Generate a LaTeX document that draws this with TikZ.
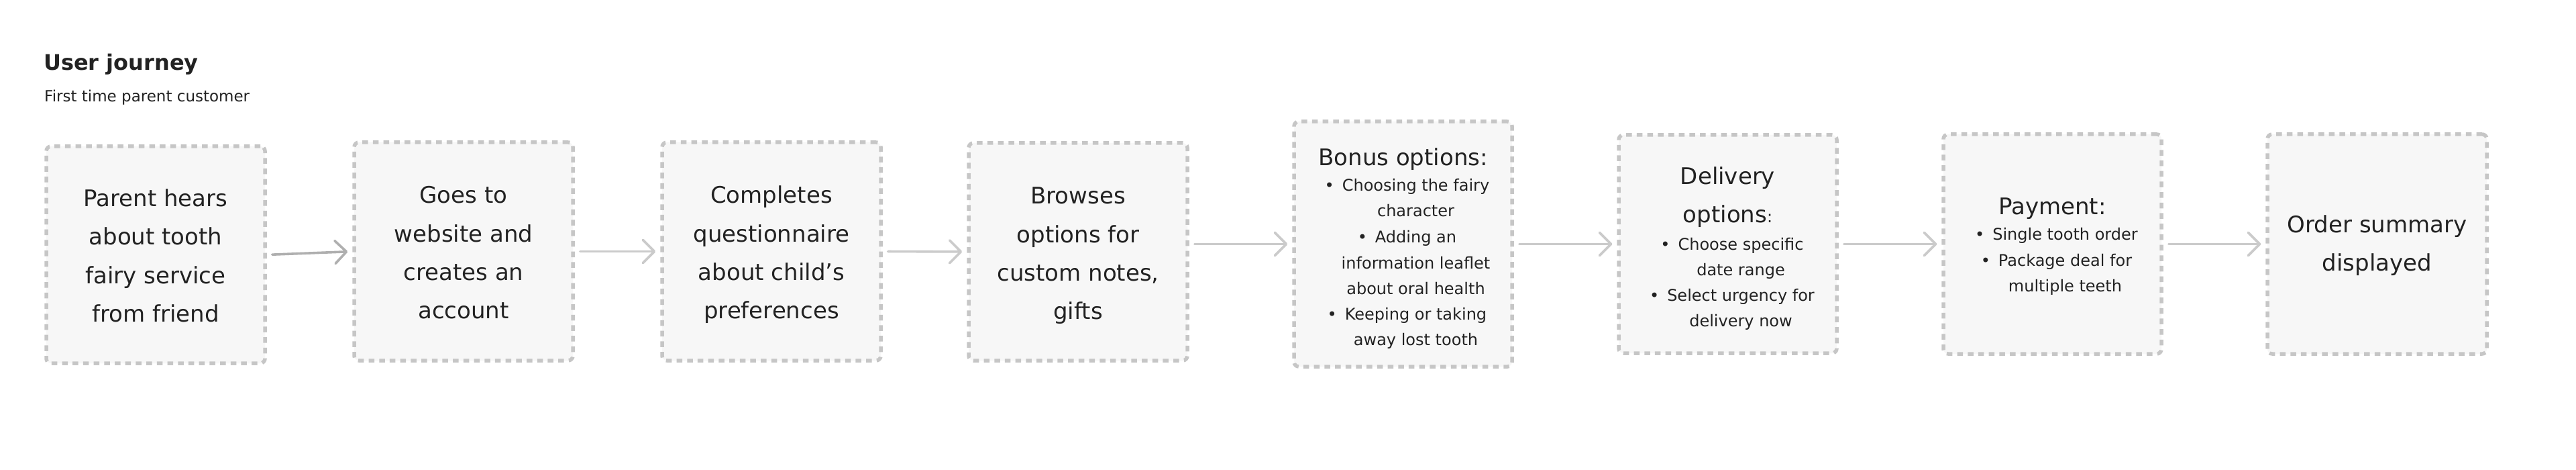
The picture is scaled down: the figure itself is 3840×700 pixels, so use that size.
\documentclass[tikz,border=0pt]{standalone}
\usepackage{fontspec}
\setmainfont{DejaVu Sans}
\usetikzlibrary{arrows.meta}
\definecolor{bordc}{HTML}{C6C6C6}
\definecolor{fillc}{HTML}{F7F7F7}
\definecolor{txtc}{HTML}{222222}
\definecolor{arrc}{HTML}{CBCBCB}
\definecolor{arrd}{HTML}{AFAFAF}
\newcommand\blt{\llap{\textbullet\hspace{12pt}}}
\begin{document}
\begin{tikzpicture}[x=1pt,y=-1pt,
  jbox/.style={draw=bordc, fill=fillc, line width=5.5pt, dash pattern=on 8.5pt off 7.2pt, rounded corners=7pt, inner sep=0pt},
  big/.style={anchor=base, inner sep=0pt, text=txtc, font=\fontsize{34}{40}\selectfont},
  small/.style={anchor=base, inner sep=0pt, text=txtc, font=\fontsize{24}{30}\selectfont},
  flow/.style={draw=arrc, line width=3.6pt, line cap=round, -{Straight Barb[length=17pt,width=34pt,round]}, shorten <=8pt, shorten >=7pt},
]
\useasboundingbox (0,0) rectangle (3840,700);
\fill[white] (0,0) rectangle (3840,700);

% titles
\node[anchor=base west, inner sep=0pt, text=txtc, font=\fontsize{32}{38}\selectfont\bfseries] (title) at (65,105) {User journey};
\node[anchor=base west, inner sep=0pt, text=txtc, font=\fontsize{23}{28}\selectfont] (subtitle) at (66,152) {First time parent customer};

% boxes
\node[jbox, minimum width=326pt, minimum height=323pt] (b1) at (232,379.5) {};
\node[jbox, minimum width=326pt, minimum height=325pt] (b2) at (691,374.5) {};
\node[jbox, minimum width=326pt, minimum height=325pt] (b3) at (1150,374.5) {};
\node[jbox, minimum width=326pt, minimum height=324pt] (b4) at (1607,375) {};
\node[jbox, minimum width=325pt, minimum height=365pt] (b5) at (2091.5,363.5) {};
\node[jbox, minimum width=325pt, minimum height=325pt] (b6) at (2575.5,363.5) {};
\node[jbox, minimum width=325pt, minimum height=327pt] (b7) at (3059.5,363.5) {};
\node[jbox, minimum width=327pt, minimum height=327pt] (b8) at (3543.5,363.5) {};

% box 1
\node[big] (t1a) at (232,308) {Parent hears};
\node[big] (t1b) at (232,365) {about tooth};
\node[big] (t1c) at (232,422) {fairy service};
\node[big] (t1d) at (232,479) {from friend};
% box 2
\node[big] (t2a) at (691,303) {Goes to};
\node[big] (t2b) at (691,360) {website and};
\node[big] (t2c) at (691,417) {creates an};
\node[big] (t2d) at (691,474) {account};
% box 3
\node[big] (t3a) at (1150,303) {Completes};
\node[big] (t3b) at (1150,360) {questionnaire};
\node[big] (t3c) at (1150,417) {about child's};
\node[big] (t3d) at (1150,474) {preferences};
% box 4
\node[big] (t4a) at (1607,304) {Browses};
\node[big] (t4b) at (1607,361) {options for};
\node[big] (t4c) at (1607,418) {custom notes,};
\node[big] (t4d) at (1607,475) {gifts};
% box 5
\node[big] (t5h) at (2091.5,247) {Bonus options:};
\node[small] (t5a) at (2110.5,285) {\blt Choosing the fairy};
\node[small] (t5b) at (2110.5,323) {character};
\node[small] (t5c) at (2110.5,361) {\blt Adding an};
\node[small] (t5d) at (2110.5,400) {information leaflet};
\node[small] (t5e) at (2110.5,438) {about oral health};
\node[small] (t5f) at (2110.5,476) {\blt Keeping or taking};
\node[small] (t5g) at (2110.5,514) {away lost tooth};
% box 6
\node[big] (t6h) at (2575.5,275) {Delivery};
\node[big] (t6i) at (2575.5,332) {options{\fontsize{24}{30}\selectfont:}};
\node[small] (t6a) at (2595,372) {\blt Choose specific};
\node[small] (t6b) at (2595,410) {date range};
\node[small] (t6c) at (2595,448) {\blt Select urgency for};
\node[small] (t6d) at (2595,486) {delivery now};
% box 7
\node[big] (t7h) at (3059.5,320) {Payment:};
\node[small] (t7a) at (3078.5,358) {\blt Single tooth order};
\node[small] (t7b) at (3078.5,396) {\blt Package deal for};
\node[small] (t7c) at (3078.5,434) {multiple teeth};
% box 8
\node[big] (t8a) at (3543.5,347) {Order summary};
\node[big] (t8b) at (3543.5,403) {displayed};

% connectors
\draw[flow, draw=arrd] (b1.east) -- (b2.west);
\draw[flow] (b2.east) -- (b3.west);
\draw[flow] (b3.east) -- (b4.west);
\draw[flow] (b4.east |- b5.west) -- (b5.west);
\draw[flow] (b5.east) -- (b6.west);
\draw[flow] (b6.east) -- (b7.west);
\draw[flow] (b7.east) -- (b8.west);
\end{tikzpicture}
\end{document}
